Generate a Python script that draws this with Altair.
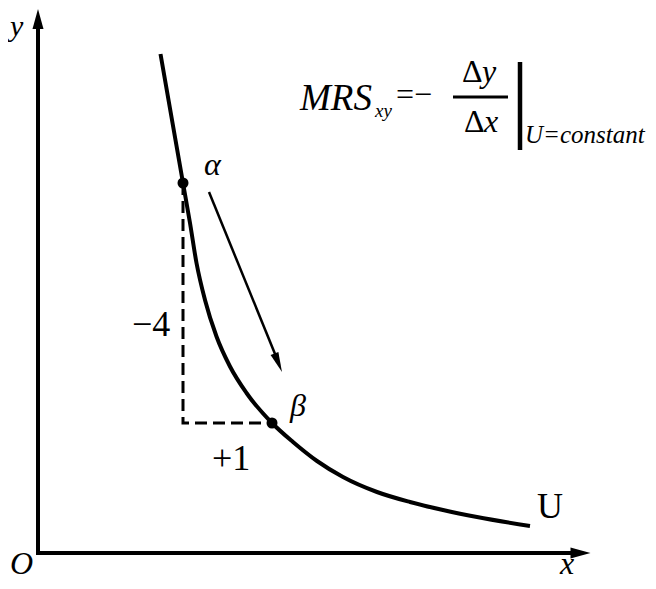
import altair as alt
import pandas as pd

# ---- data (units: axes origin at 0,0) ----
curve_x = [2.45, 2.68, 2.90, 3.04, 3.17, 3.34, 3.57, 3.84, 4.17, 4.68, 5.10, 5.58, 6.10, 6.78, 7.44, 8.10, 8.78, 9.84]
curve_y = [9.98, 8.66, 7.40, 6.60, 5.80, 5.06, 4.33, 3.73, 3.20, 2.60, 2.22, 1.84, 1.52, 1.22, 1.02, 0.86, 0.72, 0.54]

point_x = [2.90, 4.68]          # alpha, beta
point_y = [7.40, 2.60]

dash_x = [2.90, 2.90, 4.68]
dash_y = [7.40, 2.60, 2.60]

move_x, move_y, move_x2, move_y2 = [3.42], [7.22], [4.81], [3.81]
move_tip_x, move_tip_y, move_tip_angle = [4.88], [3.62], [67.9]

axis_x = [0, 0]
axis_y = [0, 0]
axis_x2 = [0, 10.75]
axis_y2 = [10.6, 0]
axis_tip_x = [0, 11.05]
axis_tip_y = [10.88, 0]
axis_tip_angle = [270, 0]

frac_x, frac_x2, frac_y = [8.30], [9.40], [9.12]
bar_x, bar_y, bar_y2 = [9.64], [9.82], [8.06]

# text groups: (texts, x, y)
it30_text = ["y"]
it30_x = [-0.56]
it30_y = [10.35]

it32_text = ["O", "α", "β", "y", "x", "x"]
it32_x = [-0.56, 3.32, 5.04, 8.88, 8.92, 10.44]
it32_y = [-0.41, 7.56, 2.74, 9.42, 8.42, -0.41]

it37_text = ["MRS"]
it37_x = [5.24]
it37_y = [8.86]

it19_text = ["xy"]
it19_x = [6.74]
it19_y = [8.72]

it25_text = ["U=constant"]
it25_x = [9.74]
it25_y = [8.20]

up32_text = ["=−", "Δ", "Δ"]
up32_x = [7.16, 8.48, 8.52]
up32_y = [8.96, 9.42, 8.42]

up36_text = ["U", "−4", "+1"]
up36_x = [9.98, 1.88, 3.48]
up36_y = [0.70, 4.34, 1.66]

# ---- scales (50 px per unit, origin at page pixel 38,553) ----
xs = alt.Scale(domain=[-0.6, 12.2], nice=False, zero=False)
ys = alt.Scale(domain=[-0.56, 10.9], nice=False, zero=False)


def X(f):
    return alt.X(f, type="quantitative", scale=xs, axis=None)


def Y(f):
    return alt.Y(f, type="quantitative", scale=ys, axis=None)


ARROW_AXIS = "M0,0 L-2,-0.55 L-2,0.55 Z"
ARROW_MOVE = "M0,0 L-2,-0.42 L-2,0.42 Z"
FONT = "Liberation Serif"

layers = []

# axes
axes_df = pd.DataFrame({"x": axis_x, "y": axis_y, "x2": axis_x2, "y2": axis_y2})
layers.append(alt.Chart(axes_df).mark_rule(color="black", strokeWidth=4, strokeCap="square").encode(
    x=X("x"), y=Y("y"), x2="x2", y2="y2"))
tips_df = pd.DataFrame({"x": axis_tip_x, "y": axis_tip_y, "a": axis_tip_angle})
layers.append(alt.Chart(tips_df).mark_point(shape=ARROW_AXIS, filled=True, size=400, color="black",
                                            opacity=1, strokeWidth=0).encode(
    x=X("x"), y=Y("y"), angle=alt.Angle("a:Q", scale=None)))

# dashed guide
dash_df = pd.DataFrame({"x": dash_x, "y": dash_y, "o": list(range(len(dash_x)))})
layers.append(alt.Chart(dash_df).mark_line(color="black", strokeWidth=3, strokeDash=[12, 6]).encode(
    x=X("x"), y=Y("y"), order="o:Q"))

# curve
curve_df = pd.DataFrame({"x": curve_x, "y": curve_y, "o": list(range(len(curve_x)))})
layers.append(alt.Chart(curve_df).mark_line(color="black", strokeWidth=4, interpolate="monotone").encode(
    x=X("x"), y=Y("y"), order="o:Q"))

# movement arrow
move_df = pd.DataFrame({"x": move_x, "y": move_y, "x2": move_x2, "y2": move_y2})
layers.append(alt.Chart(move_df).mark_rule(color="black", strokeWidth=2.5).encode(
    x=X("x"), y=Y("y"), x2="x2", y2="y2"))
mtip_df = pd.DataFrame({"x": move_tip_x, "y": move_tip_y, "a": move_tip_angle})
layers.append(alt.Chart(mtip_df).mark_point(shape=ARROW_MOVE, filled=True, size=400, color="black",
                                            opacity=1, strokeWidth=0).encode(
    x=X("x"), y=Y("y"), angle=alt.Angle("a:Q", scale=None)))

# alpha / beta points
pt_df = pd.DataFrame({"x": point_x, "y": point_y})
layers.append(alt.Chart(pt_df).mark_point(shape="circle", filled=True, size=121, color="black",
                                          opacity=1).encode(x=X("x"), y=Y("y")))

# formula lines
frac_df = pd.DataFrame({"x": frac_x, "x2": frac_x2, "y": frac_y})
layers.append(alt.Chart(frac_df).mark_rule(color="black", strokeWidth=3).encode(
    x=X("x"), x2="x2", y=Y("y")))
bar_df = pd.DataFrame({"x": bar_x, "y": bar_y, "y2": bar_y2})
layers.append(alt.Chart(bar_df).mark_rule(color="black", strokeWidth=4.5).encode(
    x=X("x"), y=Y("y"), y2="y2"))


def text_layer(texts, tx, ty, size, italic):
    df = pd.DataFrame({"t": texts, "x": tx, "y": ty})
    kw = dict(font=FONT, fontSize=size, align="left", baseline="alphabetic", color="black")
    if italic:
        kw["fontStyle"] = "italic"
    return alt.Chart(df).mark_text(**kw).encode(x=X("x"), y=Y("y"), text="t:N")


layers.append(text_layer(it30_text, it30_x, it30_y, 30, True))
layers.append(text_layer(it32_text, it32_x, it32_y, 32, True))
layers.append(text_layer(it37_text, it37_x, it37_y, 37, True))
layers.append(text_layer(it19_text, it19_x, it19_y, 19, True))
layers.append(text_layer(it25_text, it25_x, it25_y, 25, True))
layers.append(text_layer(up32_text, up32_x, up32_y, 32, False))
layers.append(text_layer(up36_text, up36_x, up36_y, 36, False))

chart = alt.layer(*layers).properties(
    width=640, height=573,
    autosize=alt.AutoSizeParams(type="none"),
    padding=0,
    background="white",
).configure_view(strokeWidth=0)

chart.save("out.html", embed_options={"renderer": "svg", "actions": False})
